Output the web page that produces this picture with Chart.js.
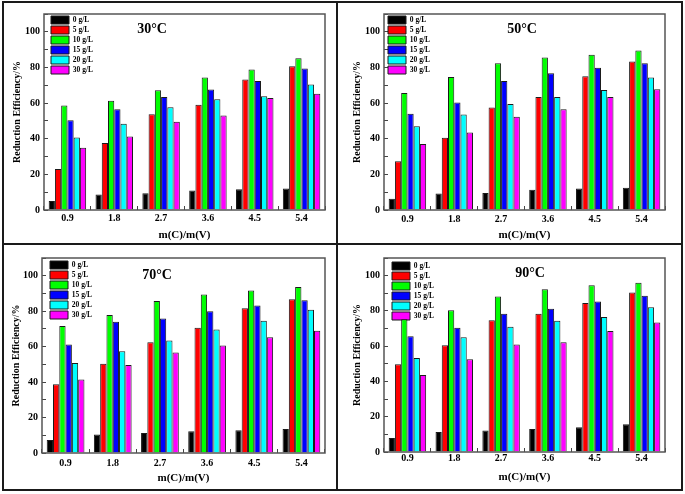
<!DOCTYPE html>
<html>
<head>
<meta charset="utf-8">
<script src="https://cdn.jsdelivr.net/npm/chart.js@4.4.0/dist/chart.umd.min.js"></script>
<style>
body { margin: 0; background: #fff; }
#fig { position: relative; width: 685px; height: 494px; overflow: hidden; background: #fff; }
#fig canvas { position: absolute; }
.rule { position: absolute; background: #1a1a1a; }
</style>
</head>
<body>
<div id="fig">
  <canvas id="c30"></canvas>
  <canvas id="c50"></canvas>
  <canvas id="c70"></canvas>
  <canvas id="c90"></canvas>
  <div class="rule" style="left:2px;top:1px;width:681px;height:2px"></div>
  <div class="rule" style="left:2px;top:1px;width:2px;height:490px"></div>
  <div class="rule" style="left:681px;top:1px;width:2px;height:490px"></div>
  <div class="rule" style="left:2px;top:489px;width:681px;height:2px"></div>
  <div class="rule" style="left:336px;top:1px;width:2px;height:490px"></div>
  <div class="rule" style="left:2px;top:243px;width:681px;height:2px"></div>
</div>
<script>
// Datos
const categories = ['0.9', '1.8', '2.7', '3.6', '4.5', '5.4'];
const seriesLabels = ['0 g/L', '5 g/L', '10 g/L', '15 g/L', '20 g/L', '30 g/L'];
const seriesColors = ['#000000', '#ff0000', '#00ff00', '#0000ff', '#00ffff', '#ff00ff'];
const temps = ['30°C', '50°C', '70°C', '90°C'];
const yTicks = [0, 20, 40, 60, 80, 100];

// una fila por serie (0, 5, 10, 15, 20, 30 g/L)
const eff30 = [
    [5.0, 8.7, 9.4, 11.0, 11.6, 12.0],
    [23.0, 37.6, 53.8, 59.1, 73.3, 80.7],
    [58.6, 61.3, 67.2, 74.4, 78.8, 85.1],
    [50.3, 56.5, 63.4, 67.6, 72.4, 79.4],
    [40.7, 48.4, 57.6, 62.2, 63.9, 70.5],
    [35.0, 41.3, 49.5, 53.0, 62.8, 65.2]
];
const eff50 = [
    [6.3, 9.2, 9.6, 11.4, 12.0, 12.5],
    [27.4, 40.5, 57.5, 63.4, 75.1, 83.4],
    [65.7, 74.6, 82.3, 85.6, 87.1, 89.5],
    [54.0, 60.4, 72.4, 76.8, 79.9, 82.3],
    [47.0, 53.6, 59.5, 63.4, 67.4, 74.4],
    [37.0, 43.5, 52.3, 56.5, 63.4, 67.8]
];
const eff70 = [
    [7.3, 10.4, 11.3, 12.2, 12.8, 13.5],
    [38.8, 50.3, 62.5, 70.7, 81.7, 86.8],
    [71.7, 77.9, 85.7, 89.4, 91.6, 93.6],
    [61.2, 74.0, 75.9, 79.9, 83.2, 86.1],
    [50.8, 57.4, 63.4, 69.7, 74.6, 80.8],
    [41.5, 49.7, 56.7, 60.7, 65.3, 68.9]
];
const eff90 = [
    [7.9, 11.3, 12.2, 13.1, 14.0, 15.7],
    [49.8, 60.5, 74.7, 78.4, 84.5, 90.4],
    [75.3, 80.4, 88.2, 92.3, 94.5, 95.9],
    [65.7, 70.5, 78.4, 81.2, 85.4, 88.6],
    [53.3, 65.1, 71.0, 74.4, 76.6, 82.1],
    [43.7, 52.6, 60.9, 62.2, 68.6, 73.4]
];

const SERIF = '"Liberation Serif", "Times New Roman", serif';

// Posición de cada panel (canvas y área del gráfico, en px absolutos)
const panels = [
    { id: 'c30', title: temps[0], values: eff30, box: [0, 0, 337, 244], area: [44, 11, 325, 210],
      titleAt: [108, 15], legendAt: [7, 2], xPad: 6.5, yTitlePad: 11.5, xTitlePad: 2.4 },
    { id: 'c50', title: temps[1], values: eff50, box: [338, 0, 347, 244], area: [384, 11, 665, 210],
      titleAt: [138, 15], legendAt: [4, 2], xPad: 7.5, yTitlePad: 13.5, xTitlePad: 2.4 },
    { id: 'c70', title: temps[2], values: eff70, box: [0, 244, 337, 250], area: [42, 253, 325, 453],
      titleAt: [115, 17], legendAt: [8, 3], xPad: 8, yTitlePad: 10, xTitlePad: 9.4 },
    { id: 'c90', title: temps[3], values: eff90, box: [338, 244, 347, 250], area: [384, 252, 665, 452],
      titleAt: [146, 15], legendAt: [8, 4], xPad: 4.5, yTitlePad: 13.8, xTitlePad: 10.4 }
];

function makePanel(p) {
    const canvas = document.getElementById(p.id);
    const [bx, by, bw, bh] = p.box;
    const [al, at, ar, ab] = p.area;
    canvas.width = bw;
    canvas.height = bh;
    canvas.style.left = bx + 'px';
    canvas.style.top = by + 'px';
    canvas.style.width = bw + 'px';
    canvas.style.height = bh + 'px';

    const datasets = seriesLabels.map((label, i) => ({
        label: label,
        data: p.values[i],
        backgroundColor: seriesColors[i],
        borderColor: '#1a1a1a',
        borderWidth: 1
    }));

    // Marco, título y posición de la leyenda
    const deco = {
        id: 'deco',
        afterLayout(chart) {
            const ca = chart.chartArea;
            chart.legend.left = ca.left + p.legendAt[0] - 2;
            chart.legend.top = ca.top + p.legendAt[1] - 2;
        },
        afterDraw(chart) {
            const ca = chart.chartArea;
            const ctx = chart.ctx;
            ctx.save();
            ctx.strokeStyle = '#555';
            ctx.lineWidth = 1.5;
            ctx.strokeRect(ca.left, ca.top, ca.right - ca.left, ca.bottom - ca.top);
            ctx.fillStyle = '#000';
            ctx.font = 'bold 14px ' + SERIF;
            ctx.textAlign = 'center';
            ctx.textBaseline = 'middle';
            ctx.fillText(p.title, ca.left + p.titleAt[0], ca.top + p.titleAt[1]);
            ctx.restore();
        }
    };

    return new Chart(canvas, {
        type: 'bar',
        data: { labels: categories, datasets: datasets },
        options: {
            responsive: false,
            animation: false,
            devicePixelRatio: 1,
            categoryPercentage: 0.8,
            barPercentage: 1.0,
            layout: {
                padding: { top: at - by, right: bx + bw - ar, bottom: 0, left: 0 }
            },
            plugins: {
                tooltip: { enabled: false },
                legend: {
                    position: 'chartArea',
                    align: 'start',
                    labels: {
                        boxWidth: 18,
                        boxHeight: 8,
                        padding: 2,
                        color: '#000',
                        font: { family: SERIF, size: 7.5, weight: 'bold' }
                    }
                }
            },
            scales: {
                x: {
                    grid: { drawOnChartArea: false, tickLength: -4, color: '#444', offset: true },
                    border: { display: false },
                    ticks: {
                        color: '#000',
                        padding: p.xPad,
                        maxRotation: 0,
                        autoSkip: false,
                        font: { family: SERIF, size: 10, weight: 'bold' }
                    },
                    title: {
                        display: true,
                        text: 'm(C)/m(V)',
                        color: '#000',
                        padding: { top: 0, bottom: p.xTitlePad },
                        font: { family: SERIF, size: 11, weight: 'bold' }
                    },
                    afterFit(scale) { scale.height = by + bh - ab; }
                },
                y: {
                    min: 0,
                    max: 110,
                    grid: { drawOnChartArea: false, tickLength: -4, color: '#444' },
                    border: { display: false },
                    ticks: {
                        stepSize: 10,
                        color: '#000',
                        padding: 8,
                        font: { family: SERIF, size: 10, weight: 'bold' },
                        callback: (v) => yTicks.includes(v) ? v : ''
                    },
                    title: {
                        display: true,
                        text: 'Reduction Efficiency/%',
                        color: '#000',
                        padding: { top: p.yTitlePad, bottom: 0 },
                        font: { family: SERIF, size: 10, weight: 'bold' }
                    },
                    afterFit(scale) { scale.width = al - bx; }
                }
            }
        },
        plugins: [deco]
    });
}

panels.forEach(makePanel);
</script>
</body>
</html>
